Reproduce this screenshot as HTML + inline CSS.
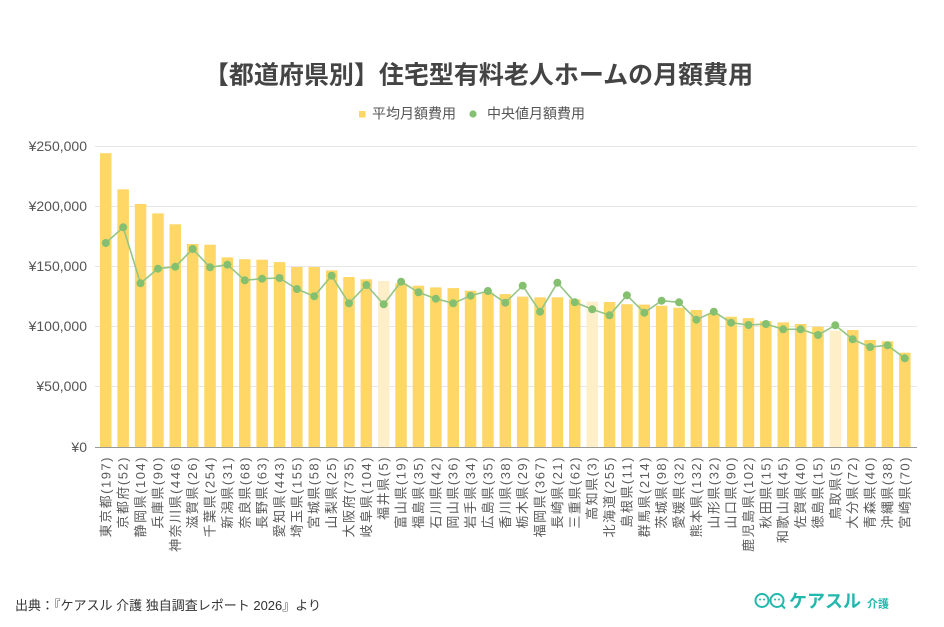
<!DOCTYPE html>
<html><head><meta charset="utf-8"><style>
html,body{margin:0;padding:0;background:#fff;}
svg{display:block;}
text{font-family:"Liberation Sans","Noto Sans CJK JP",sans-serif;}
</style></head><body>
<svg width="944" height="627" viewBox="0 0 944 627" xmlns="http://www.w3.org/2000/svg">
<rect width="944" height="627" fill="#fff"/>
<text x="478.5" y="83.5" text-anchor="middle" font-size="25" font-weight="700" fill="#444" style="font-family:'Noto Sans CJK JP',sans-serif">【都道府県別】住宅型有料老人ホームの月額費用</text>
<rect x="359" y="111" width="6.5" height="6.5" fill="#FDD663"/>
<text x="372" y="118.5" font-size="14" fill="#555">平均月額費用</text>
<circle cx="473" cy="114" r="3.6" fill="#84C06F"/>
<text x="487" y="118.5" font-size="14" fill="#555">中央値月額費用</text>
<g stroke="#e6e6e6" stroke-width="1">
<line x1="95" y1="146.5" x2="917" y2="146.5"/>
<line x1="95" y1="206.5" x2="917" y2="206.5"/>
<line x1="95" y1="266.5" x2="917" y2="266.5"/>
<line x1="95" y1="326.5" x2="917" y2="326.5"/>
<line x1="95" y1="386.5" x2="917" y2="386.5"/>
</g>
<g font-size="14" fill="#555" text-anchor="end">
<text x="87" y="151">¥250,000</text>
<text x="87" y="211">¥200,000</text>
<text x="87" y="271">¥150,000</text>
<text x="87" y="331">¥100,000</text>
<text x="87" y="391">¥50,000</text>
<text x="87" y="452">¥0</text>
</g>
<g fill="#FED766">
<rect x="100.0" y="153.2" width="11.5" height="293.8"/>
<rect x="117.4" y="189.3" width="11.5" height="257.7"/>
<rect x="134.8" y="204.0" width="11.5" height="243.0"/>
<rect x="152.2" y="213.4" width="11.5" height="233.6"/>
<rect x="169.5" y="224.3" width="11.5" height="222.7"/>
<rect x="186.9" y="244.0" width="11.5" height="203.0"/>
<rect x="204.3" y="244.7" width="11.5" height="202.3"/>
<rect x="221.6" y="257.4" width="11.5" height="189.6"/>
<rect x="239.0" y="259.2" width="11.5" height="187.8"/>
<rect x="256.4" y="259.7" width="11.5" height="187.3"/>
<rect x="273.8" y="262.1" width="11.5" height="184.9"/>
<rect x="291.1" y="267.0" width="11.5" height="180.0"/>
<rect x="308.5" y="267.0" width="11.5" height="180.0"/>
<rect x="325.9" y="270.4" width="11.5" height="176.6"/>
<rect x="343.2" y="277.0" width="11.5" height="170.0"/>
<rect x="360.6" y="279.3" width="11.5" height="167.7"/>
<rect x="378.0" y="281.0" width="11.5" height="166.0" fill="#FEEFC9"/>
<rect x="395.3" y="283.3" width="11.5" height="163.7"/>
<rect x="412.7" y="285.7" width="11.5" height="161.3"/>
<rect x="430.1" y="287.4" width="11.5" height="159.6"/>
<rect x="447.5" y="288.1" width="11.5" height="158.9"/>
<rect x="464.8" y="290.7" width="11.5" height="156.3"/>
<rect x="482.2" y="292.6" width="11.5" height="154.4"/>
<rect x="499.6" y="294.1" width="11.5" height="152.9"/>
<rect x="516.9" y="296.6" width="11.5" height="150.4"/>
<rect x="534.3" y="297.3" width="11.5" height="149.7"/>
<rect x="551.7" y="297.3" width="11.5" height="149.7"/>
<rect x="569.0" y="299.3" width="11.5" height="147.7"/>
<rect x="586.4" y="301.7" width="11.5" height="145.3" fill="#FEEFC9"/>
<rect x="603.8" y="302.0" width="11.5" height="145.0"/>
<rect x="621.2" y="304.2" width="11.5" height="142.8"/>
<rect x="638.5" y="304.6" width="11.5" height="142.4"/>
<rect x="655.9" y="305.7" width="11.5" height="141.3"/>
<rect x="673.3" y="307.7" width="11.5" height="139.3"/>
<rect x="690.6" y="310.0" width="11.5" height="137.0"/>
<rect x="708.0" y="313.4" width="11.5" height="133.6"/>
<rect x="725.4" y="316.7" width="11.5" height="130.3"/>
<rect x="742.7" y="318.1" width="11.5" height="128.9"/>
<rect x="760.1" y="321.1" width="11.5" height="125.9"/>
<rect x="777.5" y="322.4" width="11.5" height="124.6"/>
<rect x="794.9" y="324.0" width="11.5" height="123.0"/>
<rect x="812.2" y="326.7" width="11.5" height="120.3"/>
<rect x="829.6" y="330.7" width="11.5" height="116.3" fill="#FEEFC9"/>
<rect x="847.0" y="330.0" width="11.5" height="117.0"/>
<rect x="864.3" y="340.0" width="11.5" height="107.0"/>
<rect x="881.7" y="341.3" width="11.5" height="105.7"/>
<rect x="899.1" y="352.7" width="11.5" height="94.3"/>
</g>
<line x1="95" y1="447.5" x2="917" y2="447.5" stroke="#999" stroke-width="1"/>
<polyline fill="none" stroke="#95C586" stroke-width="1.6" points="105.8,243 123.2,227.3 140.5,283.3 157.9,268.7 175.3,266.7 192.7,249 210.0,267.3 227.4,264.7 244.8,280.3 262.1,278.7 279.5,278 296.9,289 314.2,296.3 331.6,275.7 349.0,303.3 366.4,285 383.7,304.3 401.1,281.7 418.5,292.3 435.8,298.7 453.2,303.3 470.6,295.7 487.9,291 505.3,302.7 522.7,285.7 540.1,311.7 557.4,282.7 574.8,302.3 592.2,309.3 609.5,315.3 626.9,295.3 644.3,312.7 661.6,300.7 679.0,302.3 696.4,319.7 713.8,311.7 731.1,322.7 748.5,325 765.9,324 783.2,329.3 800.6,329.3 818.0,335 835.3,325.3 852.7,339.3 870.1,347 887.5,345.3 904.8,358.3"/>
<g fill="#84C06F">
<circle cx="105.8" cy="243" r="4"/><circle cx="123.2" cy="227.3" r="4"/><circle cx="140.5" cy="283.3" r="4"/><circle cx="157.9" cy="268.7" r="4"/><circle cx="175.3" cy="266.7" r="4"/><circle cx="192.7" cy="249" r="4"/><circle cx="210.0" cy="267.3" r="4"/><circle cx="227.4" cy="264.7" r="4"/><circle cx="244.8" cy="280.3" r="4"/><circle cx="262.1" cy="278.7" r="4"/><circle cx="279.5" cy="278" r="4"/><circle cx="296.9" cy="289" r="4"/><circle cx="314.2" cy="296.3" r="4"/><circle cx="331.6" cy="275.7" r="4"/><circle cx="349.0" cy="303.3" r="4"/><circle cx="366.4" cy="285" r="4"/><circle cx="383.7" cy="304.3" r="4"/><circle cx="401.1" cy="281.7" r="4"/><circle cx="418.5" cy="292.3" r="4"/><circle cx="435.8" cy="298.7" r="4"/><circle cx="453.2" cy="303.3" r="4"/><circle cx="470.6" cy="295.7" r="4"/><circle cx="487.9" cy="291" r="4"/><circle cx="505.3" cy="302.7" r="4"/><circle cx="522.7" cy="285.7" r="4"/><circle cx="540.1" cy="311.7" r="4"/><circle cx="557.4" cy="282.7" r="4"/><circle cx="574.8" cy="302.3" r="4"/><circle cx="592.2" cy="309.3" r="4"/><circle cx="609.5" cy="315.3" r="4"/><circle cx="626.9" cy="295.3" r="4"/><circle cx="644.3" cy="312.7" r="4"/><circle cx="661.6" cy="300.7" r="4"/><circle cx="679.0" cy="302.3" r="4"/><circle cx="696.4" cy="319.7" r="4"/><circle cx="713.8" cy="311.7" r="4"/><circle cx="731.1" cy="322.7" r="4"/><circle cx="748.5" cy="325" r="4"/><circle cx="765.9" cy="324" r="4"/><circle cx="783.2" cy="329.3" r="4"/><circle cx="800.6" cy="329.3" r="4"/><circle cx="818.0" cy="335" r="4"/><circle cx="835.3" cy="325.3" r="4"/><circle cx="852.7" cy="339.3" r="4"/><circle cx="870.1" cy="347" r="4"/><circle cx="887.5" cy="345.3" r="4"/><circle cx="904.8" cy="358.3" r="4"/>
</g>
<g font-size="13" fill="#5a5a5a" text-anchor="end" dominant-baseline="central" letter-spacing="1.5">
<text transform="translate(105.8,456) rotate(-90)">東京都(197)</text>
<text transform="translate(123.2,456) rotate(-90)">京都府(52)</text>
<text transform="translate(140.5,456) rotate(-90)">静岡県(104)</text>
<text transform="translate(157.9,456) rotate(-90)">兵庫県(90)</text>
<text transform="translate(175.3,456) rotate(-90)">神奈川県(446)</text>
<text transform="translate(192.7,456) rotate(-90)">滋賀県(26)</text>
<text transform="translate(210.0,456) rotate(-90)">千葉県(254)</text>
<text transform="translate(227.4,456) rotate(-90)">新潟県(31)</text>
<text transform="translate(244.8,456) rotate(-90)">奈良県(68)</text>
<text transform="translate(262.1,456) rotate(-90)">長野県(63)</text>
<text transform="translate(279.5,456) rotate(-90)">愛知県(443)</text>
<text transform="translate(296.9,456) rotate(-90)">埼玉県(155)</text>
<text transform="translate(314.2,456) rotate(-90)">宮城県(58)</text>
<text transform="translate(331.6,456) rotate(-90)">山梨県(25)</text>
<text transform="translate(349.0,456) rotate(-90)">大阪府(735)</text>
<text transform="translate(366.4,456) rotate(-90)">岐阜県(104)</text>
<text transform="translate(383.7,456) rotate(-90)">福井県(5)</text>
<text transform="translate(401.1,456) rotate(-90)">富山県(19)</text>
<text transform="translate(418.5,456) rotate(-90)">福島県(35)</text>
<text transform="translate(435.8,456) rotate(-90)">石川県(42)</text>
<text transform="translate(453.2,456) rotate(-90)">岡山県(36)</text>
<text transform="translate(470.6,456) rotate(-90)">岩手県(34)</text>
<text transform="translate(487.9,456) rotate(-90)">広島県(35)</text>
<text transform="translate(505.3,456) rotate(-90)">香川県(38)</text>
<text transform="translate(522.7,456) rotate(-90)">栃木県(29)</text>
<text transform="translate(540.1,456) rotate(-90)">福岡県(367)</text>
<text transform="translate(557.4,456) rotate(-90)">長崎県(21)</text>
<text transform="translate(574.8,456) rotate(-90)">三重県(62)</text>
<text transform="translate(592.2,456) rotate(-90)">高知県(3)</text>
<text transform="translate(609.5,456) rotate(-90)">北海道(255)</text>
<text transform="translate(626.9,456) rotate(-90)">島根県(11)</text>
<text transform="translate(644.3,456) rotate(-90)">群馬県(214)</text>
<text transform="translate(661.6,456) rotate(-90)">茨城県(98)</text>
<text transform="translate(679.0,456) rotate(-90)">愛媛県(32)</text>
<text transform="translate(696.4,456) rotate(-90)">熊本県(132)</text>
<text transform="translate(713.8,456) rotate(-90)">山形県(32)</text>
<text transform="translate(731.1,456) rotate(-90)">山口県(90)</text>
<text transform="translate(748.5,456) rotate(-90)">鹿児島県(102)</text>
<text transform="translate(765.9,456) rotate(-90)">秋田県(15)</text>
<text transform="translate(783.2,456) rotate(-90)">和歌山県(45)</text>
<text transform="translate(800.6,456) rotate(-90)">佐賀県(40)</text>
<text transform="translate(818.0,456) rotate(-90)">徳島県(15)</text>
<text transform="translate(835.3,456) rotate(-90)">鳥取県(5)</text>
<text transform="translate(852.7,456) rotate(-90)">大分県(72)</text>
<text transform="translate(870.1,456) rotate(-90)">青森県(40)</text>
<text transform="translate(887.5,456) rotate(-90)">沖縄県(38)</text>
<text transform="translate(904.8,456) rotate(-90)">宮崎県(70)</text>
</g>
<text x="15" y="610" font-size="13" fill="#333">出典：『ケアスル 介護 独自調査レポート 2026』より</text>
<g stroke="#22B8AE" stroke-width="2" fill="none">
<circle cx="762" cy="600.5" r="6.5"/>
<circle cx="777" cy="600.5" r="6.5"/>
<line x1="781.5" y1="605" x2="785" y2="608.5"/>
</g>
<g fill="#22B8AE">
<circle cx="760" cy="599.5" r="1"/><circle cx="764" cy="599.5" r="1"/>
<circle cx="775" cy="599.5" r="1"/><circle cx="779" cy="599.5" r="1"/>
</g>
<text x="789" y="607.5" font-size="18" font-weight="700" fill="#22B8AE" style="font-family:'Noto Sans CJK JP',sans-serif">ケアスル</text>
<text x="867" y="607.5" font-size="11" font-weight="700" fill="#22B8AE" style="font-family:'Noto Sans CJK JP',sans-serif">介護</text>
</svg>
</body></html>
